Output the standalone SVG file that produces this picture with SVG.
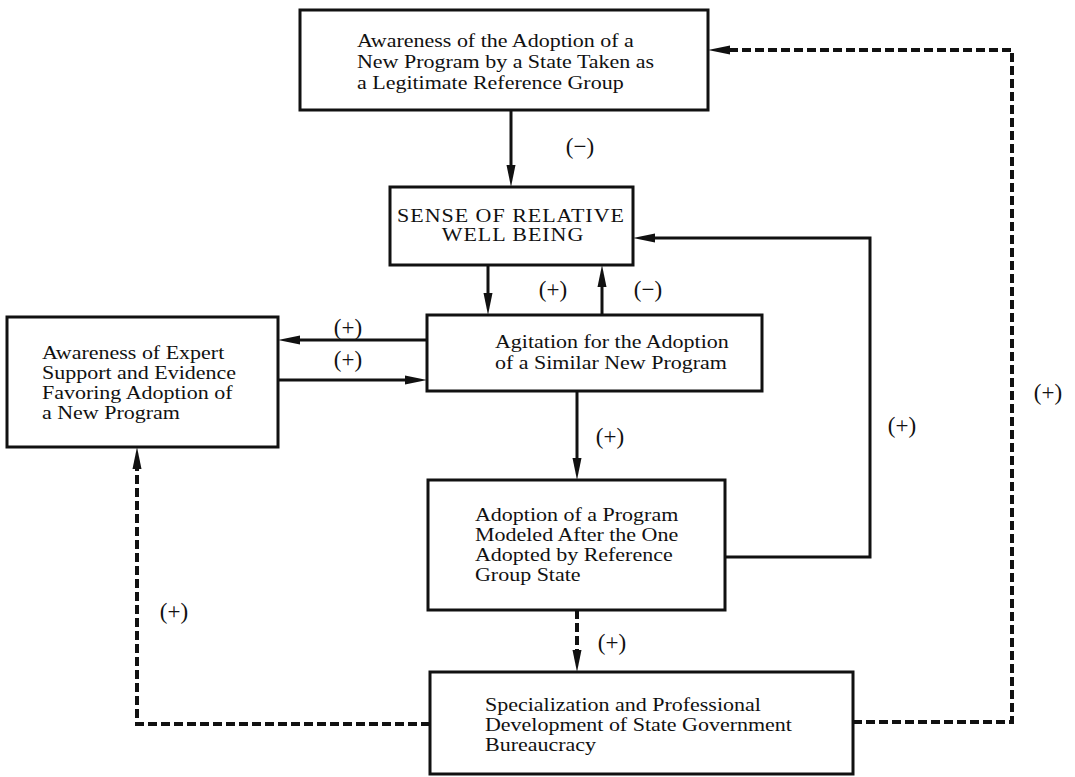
<svg xmlns="http://www.w3.org/2000/svg" width="1075" height="777" viewBox="0 0 1075 777">
<style>
.box{fill:#fff;stroke:#111;stroke-width:3}
.t{font-family:"Liberation Serif","Times New Roman",serif;font-size:18px;fill:#111}
.caps{letter-spacing:0.8px}
.lbl{font-family:"Liberation Serif","Times New Roman",serif;font-size:23px;fill:#111;text-anchor:middle}
.ln{fill:none;stroke:#111;stroke-width:3;marker-end:url(#ah)}
.dl{fill:none;stroke:#111;stroke-width:4;stroke-dasharray:9 4}
</style>
<defs>
<marker id="ah" viewBox="0 0 22 10" markerWidth="22" markerHeight="10" refX="12" refY="5" orient="auto" markerUnits="userSpaceOnUse">
<path d="M0,0.5 L22,5 L0,9.5 z" fill="#111"/>
</marker>
</defs>
<rect width="1075" height="777" fill="#fff"/>
<g id="connectors">
<path class="ln" d="M511,110 V177"/>
<path class="ln" d="M488,265 V305"/>
<path class="ln" d="M602,315 V275"/>
<path class="ln" d="M427,340 H288"/>
<path class="ln" d="M278,380 H417"/>
<path class="ln" d="M577,391 V470"/>
<path class="ln" d="M725,557 H870 V238 H643"/>
<path class="dl" d="M577,610 V662"/>
<path class="ln" d="M577,652 V662"/>
<path class="dl" d="M430,724 H137 V457"/>
<path class="ln" d="M137,467 V457"/>
<path class="dl" d="M853,722 H1012 V50 H718"/>
<path class="ln" d="M728,50 H718"/>
</g>
<g id="n1">
<rect class="box" x="300" y="10" width="408" height="100"/>
<text class="t" transform="translate(357,47) scale(1.222,1)">Awareness of the Adoption of a</text>
<text class="t" transform="translate(357,68) scale(1.222,1)">New Program by a State Taken as</text>
<text class="t" transform="translate(357,89) scale(1.222,1)">a Legitimate Reference Group</text>
</g>
<g id="n2">
<rect class="box" x="390" y="187" width="243" height="78"/>
<text class="t caps" text-anchor="middle" transform="translate(511,222) scale(1.222,1)">SENSE OF RELATIVE</text>
<text class="t caps" text-anchor="middle" transform="translate(513,241) scale(1.222,1)">WELL BEING</text>
</g>
<g id="n3">
<rect class="box" x="427" y="315" width="335" height="76"/>
<text class="t" transform="translate(495,348) scale(1.222,1)">Agitation for the Adoption</text>
<text class="t" transform="translate(495,369) scale(1.222,1)">of a Similar New Program</text>
</g>
<g id="n4">
<rect class="box" x="7" y="317" width="271" height="130"/>
<text class="t" transform="translate(42,359) scale(1.222,1)">Awareness of Expert</text>
<text class="t" transform="translate(42,379) scale(1.222,1)">Support and Evidence</text>
<text class="t" transform="translate(42,399) scale(1.222,1)">Favoring Adoption of</text>
<text class="t" transform="translate(42,419) scale(1.222,1)">a New Program</text>
</g>
<g id="n5">
<rect class="box" x="428" y="480" width="297" height="130"/>
<text class="t" transform="translate(475,521) scale(1.222,1)">Adoption of a Program</text>
<text class="t" transform="translate(475,541) scale(1.222,1)">Modeled After the One</text>
<text class="t" transform="translate(475,561) scale(1.222,1)">Adopted by Reference</text>
<text class="t" transform="translate(475,581) scale(1.222,1)">Group State</text>
</g>
<g id="n6">
<rect class="box" x="430" y="672" width="423" height="102"/>
<text class="t" transform="translate(485,711) scale(1.222,1)">Specialization and Professional</text>
<text class="t" transform="translate(485,731) scale(1.222,1)">Development of State Government</text>
<text class="t" transform="translate(485,751) scale(1.222,1)">Bureaucracy</text>
</g>
<g id="labels">
<text class="lbl" x="580" y="154">(−)</text>
<text class="lbl" x="553" y="297">(+)</text>
<text class="lbl" x="648" y="297">(−)</text>
<text class="lbl" x="348" y="335">(+)</text>
<text class="lbl" x="348" y="367">(+)</text>
<text class="lbl" x="610" y="444">(+)</text>
<text class="lbl" x="902" y="433">(+)</text>
<text class="lbl" x="1048" y="400">(+)</text>
<text class="lbl" x="174" y="619">(+)</text>
<text class="lbl" x="612" y="650">(+)</text>
</g>
</svg>
